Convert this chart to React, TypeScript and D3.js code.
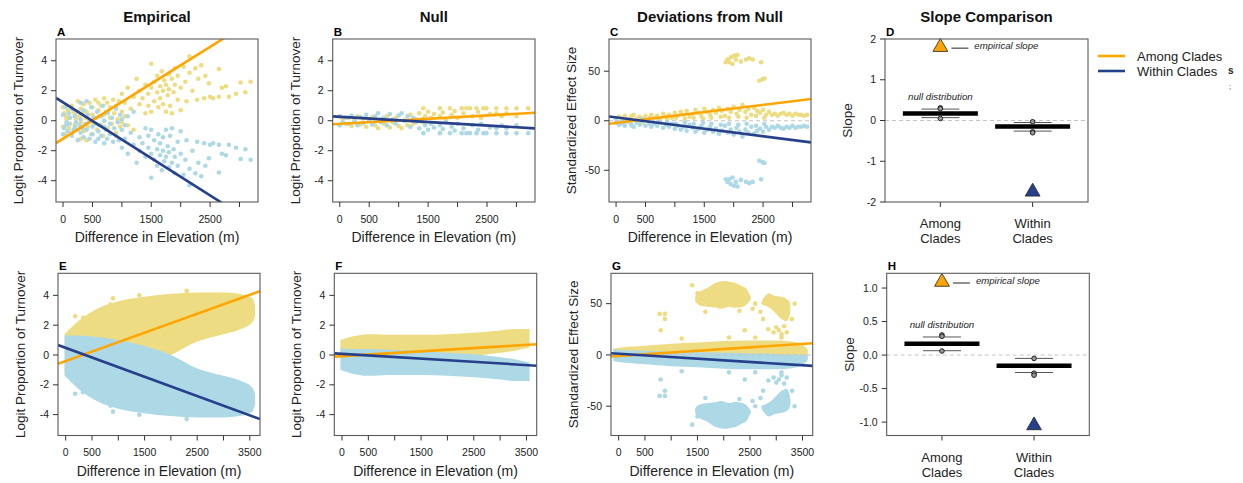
import React from "react";
import * as d3 from "d3";

type Pt = [number, number];
type Band = { x: number[]; lo: number[]; hi: number[] };

// ---- axis ticks and labels ----
const elevTicksTop = [0, 500, 1000, 1500, 2000, 2500, 3000];
const elevLabelsTop = ["0", "500", "", "1500", "", "2500", ""];
const elevTicksBottom = [0, 500, 1000, 1500, 2000, 2500, 3000, 3500];
const elevLabelsBottom = ["0", "500", "", "1500", "", "2500", "", "3500"];
const logitTicks = [-4, -2, 0, 2, 4];
const sesTicks = [-50, 0, 50];
const slopeTicksTop = [-2, -1, 0, 1, 2];
const slopeLabelsTop = ["-2", "-1", "0", "1", "2"];
const slopeTicksBottom = [-1, -0.5, 0, 0.5, 1];
const slopeLabelsBottom = ["-1.0", "-0.5", "0.0", "0.5", "1.0"];

const titles = ["Empirical", "Null", "Deviations from Null", "Slope Comparison"];
const seriesNames = ["Among Clades", "Within Clades"];
const slopeCats = [["Among", "Clades"], ["Within", "Clades"]];

// ---- regression fits, panels A B C E F G (intercept, slope per m) ----
const amongIntercepts = [-1.2, -0.21, -2.1, -0.41, -0.08, -1.1];
const amongSlopes = [0.00245, 0.000224, 0.00725, 0.00127, 0.000216, 0.00339];
const withinIntercepts = [1.22, 0.26, 3.45, 0.48, 0.08, 1.13];
const withinSlopes = [-0.00248, -0.000233, -0.00763, -0.001294, -0.000216, -0.0032];

// ---- panel A points ----
const amongA: Pt[] = [
  [0,0.9],[0,-0.4],[20,0.5],[40,-0.9],[50,0.3],[60,0.1],[80,0.7],[100,-0.5],[100,0.2],[120,-0.2],[150,1.0],[150,-0.8],[180,0.6],[200,0.4],[200,-0.3],[220,0.1],[250,1.3],[250,-0.6],[280,0.3],[300,0.8],[300,-1.2],[300,-0.1],[330,0.5],[350,1.1],[350,-0.7],[380,0.2],[400,0.6],[400,-1.3],[420,-0.4],[450,1.2],[450,0.0],[480,-0.9],[500,0.9],[500,0.4],[520,-0.2],[550,1.4],[560,0.2],[580,-0.6],[600,0.7],[600,1.2],[620,0.3],[650,1.0],[650,-0.3],[680,-1.0],[700,1.5],[700,0.4],[700,0.0],[730,0.6],[750,1.2],[760,-0.5],[800,0.9],[800,0.2],[830,-0.2],[850,1.4],[870,0.5],[900,1.0],[900,-0.8],[930,0.1],[950,1.3],[970,-0.4],[1000,0.6],[1000,1.8],[1000,-0.1],[1050,1.2],[1050,0.3],[1100,2.2],[1100,-0.3],[1150,0.8],[1200,1.6],[1200,-0.6],[1250,2.8],[1300,1.1],[1300,2.0],[1350,1.5],[1400,2.4],[1400,0.5],[1450,1.8],[1450,1.0],[1500,2.2],[1500,3.8],[1500,0.6],
  [1550,1.3],[1550,2.6],[1600,1.9],[1600,3.0],[1620,0.9],[1650,2.3],[1650,1.5],[1680,3.3],[1700,2.0],[1700,1.1],[1720,2.7],[1750,2.4],[1750,0.6],[1780,1.7],[1800,3.1],[1800,2.1],[1820,1.0],[1850,2.8],[1850,0.5],[1880,1.9],[1900,3.5],[1900,2.4],[1950,1.4],[1950,3.0],[2000,2.2],[2000,0.7],
  [2050,3.6],[2080,2.6],[2100,1.3],[2150,4.3],[2150,3.2],[2200,2.0],[2250,3.5],[2280,1.4],[2300,2.8],[2350,3.7],[2400,1.5],[2420,3.0],[2480,2.5],[2500,1.6],
  [2550,1.5],[2650,3.45],[2650,1.6],[2700,2.2],[2770,2.3],[2820,1.6],[2940,1.8],[3020,2.55],[3100,1.9],[3190,2.6]
];
const withinA: Pt[] = [
  [0,-0.9],[0,0.4],[20,-0.5],[40,0.9],[50,-0.3],[60,-0.1],[80,-0.7],[100,0.5],[100,-0.2],[120,0.2],[150,-1.0],[150,0.8],[180,-0.6],[200,-0.4],[200,0.3],[220,-0.1],[250,-1.3],[250,0.6],[280,-0.3],[300,-0.8],[300,1.2],[300,0.1],[330,-0.5],[350,-1.1],[350,0.7],[380,-0.2],[400,-0.6],[400,1.3],[420,0.4],[450,-1.2],[450,0.0],[480,0.9],[500,-0.9],[500,-0.4],[520,0.2],[550,-1.4],[560,-0.2],[580,0.6],[600,-0.7],[600,-1.2],[620,-0.3],[650,-1.0],[650,0.3],[680,1.0],[700,-1.5],[700,-0.4],[700,0.0],[730,-0.6],[750,-1.2],[760,0.5],[800,-0.9],[800,-0.2],[830,0.2],[850,-1.4],[870,-0.5],[900,-1.0],[900,0.8],[930,-0.1],[950,-1.3],[970,0.4],[1000,-0.6],[1000,-1.8],[1000,0.1],[1050,-1.2],[1050,-0.3],[1100,-2.2],[1100,0.3],[1150,-0.8],[1200,-1.6],[1200,0.6],[1250,-2.8],[1300,-1.1],[1300,-2.0],[1350,-1.5],[1400,-2.4],[1400,-0.5],[1450,-1.8],[1450,-1.0],[1500,-2.2],[1500,-3.8],[1500,-0.6],
  [1550,-1.3],[1550,-2.6],[1600,-1.9],[1600,-3.0],[1620,-0.9],[1650,-2.3],[1650,-1.5],[1680,-3.3],[1700,-2.0],[1700,-1.1],[1720,-2.7],[1750,-2.4],[1750,-0.6],[1780,-1.7],[1800,-3.1],[1800,-2.1],[1820,-1.0],[1850,-2.8],[1850,-0.5],[1880,-1.9],[1900,-3.5],[1900,-2.4],[1950,-1.4],[1950,-3.0],[2000,-2.2],[2000,-0.7],
  [2050,-3.6],[2080,-2.6],[2100,-1.3],[2150,-4.3],[2150,-3.2],[2200,-2.0],[2250,-3.5],[2280,-1.4],[2300,-2.8],[2350,-3.7],[2400,-1.5],[2420,-3.0],[2480,-2.5],[2500,-1.6],
  [2550,-1.5],[2650,-3.45],[2650,-1.6],[2700,-2.2],[2770,-2.3],[2820,-1.6],[2940,-1.8],[3020,-2.55],[3100,-1.9],[3190,-2.6]
];

// ---- panel B points ----
const amongB: Pt[] = [
  [0,0.3],[0,-0.3],[50,0.1],[100,-0.2],[150,0.2],[200,-0.35],[250,0.05],[300,0.3],[350,-0.25],[400,0.15],[450,-0.4],[500,0.0],[550,0.25],[600,-0.3],[650,-0.5],[700,0.1],[750,-0.2],[800,0.3],[850,-0.45],[900,-0.1],[950,0.2],[1000,-0.35],[1050,-0.5],[1100,0.0],[1150,-0.3],[1200,0.4],[1250,-0.2],[1300,0.1],[1350,0.5],[1420,0.83],[1400,-0.1],[1450,0.3],[1500,0.6],[1550,0.2],[1600,0.45],[1700,0.83],[1700,0.3],[1750,0.55],[1800,0.1],[1870,0.83],[1900,0.4],[1950,0.65],[2000,0.2],[2070,0.83],[2100,0.5],[2150,0.83],[2210,0.83],[2250,0.3],[2320,0.83],[2350,0.6],[2400,0.2],[2440,0.83],[2490,0.83],[2550,0.45],[2660,0.83],[2660,0.5],[2750,0.3],[2830,0.83],[2830,0.5],[3000,0.83],[3000,0.3],[3200,0.83]
];
const withinB: Pt[] = [
  [0,-0.3],[0,0.3],[50,-0.1],[100,0.2],[150,-0.2],[200,0.35],[250,-0.05],[300,-0.3],[350,0.25],[400,-0.15],[450,0.4],[500,0.0],[550,-0.25],[600,0.3],[650,0.5],[700,-0.1],[750,0.2],[800,-0.3],[850,0.45],[900,0.1],[950,-0.2],[1000,0.35],[1050,0.5],[1100,0.0],[1150,0.3],[1200,-0.4],[1250,0.2],[1300,-0.1],[1350,-0.5],[1420,-0.83],[1400,0.1],[1450,-0.3],[1500,-0.6],[1550,-0.2],[1600,-0.45],[1700,-0.83],[1700,-0.3],[1750,-0.55],[1800,-0.1],[1870,-0.83],[1900,-0.4],[1950,-0.65],[2000,-0.2],[2070,-0.83],[2100,-0.5],[2150,-0.83],[2210,-0.83],[2250,-0.3],[2320,-0.83],[2350,-0.6],[2400,-0.2],[2440,-0.83],[2490,-0.83],[2550,-0.45],[2660,-0.83],[2660,-0.5],[2750,-0.3],[2830,-0.83],[2830,-0.5],[3000,-0.83],[3000,-0.3],[3200,-0.83]
];

// ---- panel C points ----
const amongC: Pt[] = [
  [0,2],[0,-2],[50,4],[100,1],[120,3],[150,5],[200,-1],[250,3],[270,5],[300,6],[350,2],[400,4],[420,1],[450,-2],[500,5],[550,1],[570,3],[600,6],[650,3],[700,5],[720,1],[750,2],[800,7],[850,4],[870,2],[900,6],[950,3],[1000,8],[1020,3],[1050,5],[1100,9],[1150,6],[1170,2],[1200,10],[1250,4],[1300,7],[1320,3],[1350,11],[1400,8],[1450,5],[1480,2],[1500,12],[1550,9],[1600,6],[1620,3],[1650,11],[1700,8],[1750,13],[1780,4],[1800,10],[1850,5],[1900,12],[1920,3],[1950,9],[2000,14],[2050,7],[2080,4],[2100,11],[2150,16],[2200,9],[2220,3],[2250,12],[2300,6],[2350,13],[2380,5],[2400,10],[2450,8],[2500,11],[2520,3],[2550,6],[2600,9],[2650,6],[2700,7],[2750,5],[2800,7],[2850,8],[2900,6],[2950,7],[3000,5],[3050,7],[3100,6],[3150,6],[3200,5],[3250,6],
  [1866,59],[1895,61.7],[1923,59],[1952,64],[1980,57.3],[2009,65.7],[2037,61.7],[2066,66.4],[2123,59.7],[2209,61.7],[2266,63],[2323,61.7],[2466,59],[2437,40.4],[2494,42],[2523,42.7]
];
const withinC: Pt[] = [
  [0,-2],[0,2],[50,-4],[100,-1],[120,-3],[150,-5],[200,1],[250,-3],[270,-5],[300,-6],[350,-2],[400,-4],[420,-1],[450,2],[500,-5],[550,-1],[570,-3],[600,-6],[650,-3],[700,-5],[720,-1],[750,-2],[800,-7],[850,-4],[870,-2],[900,-6],[950,-3],[1000,-8],[1020,-3],[1050,-5],[1100,-9],[1150,-6],[1170,-2],[1200,-10],[1250,-4],[1300,-7],[1320,-3],[1350,-11],[1400,-8],[1450,-5],[1480,-2],[1500,-12],[1550,-9],[1600,-6],[1620,-3],[1650,-11],[1700,-8],[1750,-13],[1780,-4],[1800,-10],[1850,-5],[1900,-12],[1920,-3],[1950,-9],[2000,-14],[2050,-7],[2080,-4],[2100,-11],[2150,-16],[2200,-9],[2220,-3],[2250,-12],[2300,-6],[2350,-13],[2380,-5],[2400,-10],[2450,-8],[2500,-11],[2520,-3],[2550,-6],[2600,-9],[2650,-6],[2700,-7],[2750,-5],[2800,-7],[2850,-8],[2900,-6],[2950,-7],[3000,-5],[3050,-7],[3100,-6],[3150,-6],[3200,-5],[3250,-6],
  [1866,-59],[1895,-61.7],[1923,-59],[1952,-64],[1980,-57.3],[2009,-65.7],[2037,-61.7],[2066,-66.4],[2123,-59.7],[2209,-61.7],[2266,-63],[2323,-61.7],[2466,-59],[2437,-40.4],[2494,-42],[2523,-42.7]
];

// ---- panel E (dense clouds, outlined as bands) ----
const elevE = [-20, 250, 600, 1000, 1500, 2000, 2500, 3000, 3300, 3550, 3600];
const amongHiE = [1.4, 2.3, 3.1, 3.6, 3.9, 4.1, 4.2, 4.2, 4.1, 3.8, 3.3];
const amongLoE = [-1.3, -1.3, -1.2, -1.0, -0.6, 0.0, 0.9, 1.4, 1.7, 2.2, 2.6];
const withinHiE = [1.3, 1.3, 1.2, 1.0, 0.6, 0.0, -0.9, -1.4, -1.7, -2.2, -2.6];
const withinLoE = [-1.4, -2.3, -3.1, -3.6, -3.9, -4.1, -4.2, -4.2, -4.1, -3.8, -3.3];
const amongE: Pt[] = [[180,2.6],[330,2.5],[850,3.4],[900,3.8],[1400,4.0],[2300,4.3],[3250,2.3],[3400,3.6],[3500,2.6]];
const withinE: Pt[] = [[180,-2.6],[330,-2.5],[850,-3.4],[900,-3.8],[1400,-4.0],[2300,-4.3],[3250,-2.3],[3400,-3.6],[3500,-2.6]];

// ---- panel F ----
const elevF = [-30, 150, 500, 1000, 1500, 2000, 2500, 3000, 3300, 3560];
const amongHiF = [1.0, 1.2, 1.4, 1.35, 1.35, 1.4, 1.5, 1.65, 1.75, 1.75];
const amongLoF = [-0.45, -0.4, -0.4, -0.33, -0.25, -0.15, -0.05, 0.15, 0.3, 0.5];
const withinHiF = [0.45, 0.4, 0.4, 0.33, 0.25, 0.15, 0.05, -0.15, -0.3, -0.5];
const withinLoF = [-1.0, -1.2, -1.4, -1.35, -1.35, -1.4, -1.5, -1.65, -1.75, -1.75];

// ---- panel G ----
const elevG = [-100, 0, 500, 1000, 1500, 2000, 2500, 3000, 3300, 3550, 3600];
const amongHiG = [6, 7, 9, 11, 12, 13.5, 14, 14, 13, 8, 5];
const amongLoG = [-6, -5, -4, -3, -2.5, -2, -1.5, -1, -0.5, 0, 0];
const withinHiG = [6, 5, 4, 3, 2.5, 2, 1.5, 1, 0.5, 0, 0];
const withinLoG = [-6, -7, -9, -11, -12, -13.5, -14, -14, -13, -8, -5];
const amongClustersG: Pt[][] = [
  [[1460,57],[1550,62],[1676,65],[1800,69],[1900,71],[2019,72],[2150,71],[2238,70],[2350,67],[2425,65],[2480,60],[2519,55],[2450,50],[2363,47],[2200,46],[2113,47],[1950,45],[1863,46],[1700,47],[1560,48],[1470,51]],
  [[2750,55],[2850,60],[2950,58],[3050,57],[3150,56],[3250,52],[3270,45],[3250,38],[3200,33],[3100,35],[3000,40],[2900,45],[2800,48],[2720,50]]
];
const withinClustersG: Pt[][] = [
  [[1460,-57],[1550,-62],[1676,-65],[1800,-69],[1900,-71],[2019,-72],[2150,-71],[2238,-70],[2350,-67],[2425,-65],[2480,-60],[2519,-55],[2450,-50],[2363,-47],[2200,-46],[2113,-47],[1950,-45],[1863,-46],[1700,-47],[1560,-48],[1470,-51]],
  [[2750,-55],[2850,-60],[2950,-58],[3050,-57],[3150,-56],[3250,-52],[3270,-45],[3250,-38],[3200,-33],[3100,-35],[3000,-40],[2900,-45],[2800,-48],[2720,-50]]
];
const amongG: Pt[] = [[780,40],[880,40],[880,35],[800,24],[1200,16],[1400,68],[1500,60],[1550,52],[1650,42],[2100,17],[2300,43],[2400,24],[2550,45],[2600,50],[2600,17],[2700,42],[2750,35],[2850,25],[2950,22],[3000,27],[3050,24],[3100,20],[3150,28],[3100,17],[3200,22],[3300,35],[3350,50]];
const withinG: Pt[] = [[780,-40],[880,-40],[880,-35],[800,-24],[1200,-16],[1400,-68],[1500,-60],[1550,-52],[1650,-42],[2100,-17],[2300,-43],[2400,-24],[2550,-45],[2600,-50],[2600,-17],[2700,-42],[2750,-35],[2850,-25],[2950,-22],[3000,-27],[3050,-24],[3100,-20],[3150,-28],[3100,-17],[3200,-22],[3300,-35],[3350,-50]];

// ---- slope comparison (null distribution summaries + empirical slopes) ----
const nullMedianD = [0.17, -0.15];
const nullLowD = [0.07, -0.26];
const nullHighD = [0.28, -0.05];
const nullOutliersD = [[0.31, 0.29, 0.05], [-0.03, -0.28, -0.3]];
const empiricalD = [1.8, -1.75];
const nullMedianH = [0.17, -0.16];
const nullLowH = [0.065, -0.26];
const nullHighH = [0.27, -0.05];
const nullOutliersH = [[0.3, 0.28, 0.06], [-0.05, -0.27, -0.3]];
const empiricalH = [1.09, -1.05];

const AMONG_PT = "#EEDC82";
const WITHIN_PT = "#ADD8E6";
const AMONG_LINE = "#FFA500";
const WITHIN_LINE = "#27408B";
const FONT = "'Liberation Sans', Arial, Helvetica, sans-serif";

const rows = [
  { top: 39, bottom: 202, tickBase: 222.5, xlabBase: 242, letterBase: 35.5 },
  { top: 273.3, bottom: 435.5, tickBase: 455.5, xlabBase: 475.5, letterBase: 269.5 },
];

const scatterPanels: any[] = [
  { letter: "A", row: 0, left: 56, right: 258, xDomain: [-120, 3315], yDomain: [-5.42, 5.45], xTicks: elevTicksTop, xLabels: elevLabelsTop, yTicks: logitTicks, ylab: "Logit Proportion of Turnover", among: amongA, within: withinA, fit: 0 },
  { letter: "B", row: 0, left: 332.7, right: 535, xDomain: [-120, 3315], yDomain: [-5.42, 5.45], xTicks: elevTicksTop, xLabels: elevLabelsTop, yTicks: logitTicks, ylab: "Logit Proportion of Turnover", among: amongB, within: withinB, fit: 1 },
  { letter: "C", row: 0, left: 609, right: 811, xDomain: [-120, 3315], yDomain: [-82, 82.5], xTicks: elevTicksTop, xLabels: elevLabelsTop, yTicks: sesTicks, ylab: "Standardized Effect Size", among: amongC, within: withinC, fit: 2, zero: true },
  { letter: "E", row: 1, left: 58, right: 260, xDomain: [-146, 3694], yDomain: [-5.4, 5.48], xTicks: elevTicksBottom, xLabels: elevLabelsBottom, yTicks: logitTicks, ylab: "Logit Proportion of Turnover", among: amongE, within: withinE, fit: 3,
    amongBand: { x: elevE, lo: amongLoE, hi: amongHiE }, withinBand: { x: elevE, lo: withinLoE, hi: withinHiE } },
  { letter: "F", row: 1, left: 334.3, right: 536.7, xDomain: [-146, 3694], yDomain: [-5.4, 5.48], xTicks: elevTicksBottom, xLabels: elevLabelsBottom, yTicks: logitTicks, ylab: "Logit Proportion of Turnover", among: [], within: [], fit: 4,
    amongBand: { x: elevF, lo: amongLoF, hi: amongHiF }, withinBand: { x: elevF, lo: withinLoF, hi: withinHiF } },
  { letter: "G", row: 1, left: 611, right: 812.7, xDomain: [-146, 3694], yDomain: [-78.6, 79.6], xTicks: elevTicksBottom, xLabels: elevLabelsBottom, yTicks: sesTicks, ylab: "Standardized Effect Size", among: amongG, within: withinG, fit: 5, zero: true,
    amongBand: { x: elevG, lo: amongLoG, hi: amongHiG }, withinBand: { x: elevG, lo: withinLoG, hi: withinHiG },
    amongBlobs: amongClustersG, withinBlobs: withinClustersG },
];

const slopePanels: any[] = [
  { letter: "D", row: 0, left: 885, right: 1088, yDomain: [-2, 2], yTicks: slopeTicksTop, yLabels: slopeLabelsTop, median: nullMedianD, low: nullLowD, high: nullHighD, outliers: nullOutliersD, emp: empiricalD, nullLabel: 0.51, cat1: 227.6, cat2: 242.5 },
  { letter: "H", row: 1, left: 886.7, right: 1089.3, yDomain: [-1.2, 1.22], yTicks: slopeTicksBottom, yLabels: slopeLabelsBottom, median: nullMedianH, low: nullLowH, high: nullHighH, outliers: nullOutliersH, emp: empiricalH, nullLabel: 0.41, cat1: 461.5, cat2: 476.5 },
];

function YAxis({ p, y, top, bottom, labels }: any) {
  return (
    <g>
      {p.yTicks.map((t: number, i: number) => (
        <g key={t}>
          <line x1={p.left - 5} x2={p.left} y1={y(t)} y2={y(t)} stroke="#333" />
          <text x={p.left - 9} y={y(t)} dy="0.35em" textAnchor="end" fontSize={10.5} fill="#222">
            {labels ? labels[i] : String(t)}
          </text>
        </g>
      ))}
      <text transform={`translate(${p.left - 33},${(top + bottom) / 2}) rotate(-90)`} textAnchor="middle" fontSize={13.5} fill="#222">
        {p.ylab || "Slope"}
      </text>
    </g>
  );
}

function Scatter({ p }: { p: any }) {
  const r = rows[p.row];
  const x = d3.scaleLinear().domain(p.xDomain).range([p.left, p.right]);
  const y = d3.scaleLinear().domain(p.yDomain).range([r.bottom, r.top]);
  const clip = "clip" + p.letter;
  const band = (b: Band) =>
    d3.area<number>().x((d) => x(d)).y0((_, k) => y(b.lo[k])).y1((_, k) => y(b.hi[k])).curve(d3.curveMonotoneX)(b.x) || "";
  const blob = (poly: Pt[]) =>
    d3.line<Pt>().x((d) => x(d[0])).y((d) => y(d[1])).curve(d3.curveCardinalClosed)(poly) || "";
  const fit = (a: number, b: number) => d3.line<number>().x((d) => x(d)).y((d) => y(a + b * d))(p.xDomain) || "";
  const layer = (band0: Band | undefined, blobs: Pt[][] | undefined, pts: Pt[], color: string) => (
    <g fill={color}>
      {band0 && <path d={band(band0)} />}
      {(blobs || []).map((b, i) => <path key={i} d={blob(b)} />)}
      {pts.map((d, i) => <circle key={i} cx={x(d[0])} cy={y(d[1])} r={2.3} />)}
    </g>
  );
  return (
    <g>
      <clipPath id={clip}>
        <rect x={p.left} y={r.top} width={p.right - p.left} height={r.bottom - r.top} />
      </clipPath>
      <g clipPath={`url(#${clip})`}>
        {layer(p.amongBand, p.amongBlobs, p.among, AMONG_PT)}
        {layer(p.withinBand, p.withinBlobs, p.within, WITHIN_PT)}
        {p.zero && <line x1={p.left} x2={p.right} y1={y(0)} y2={y(0)} stroke="#c4c4c4" strokeDasharray="4,3" />}
        <path d={fit(amongIntercepts[p.fit], amongSlopes[p.fit])} stroke={AMONG_LINE} strokeWidth={2.6} fill="none" />
        <path d={fit(withinIntercepts[p.fit], withinSlopes[p.fit])} stroke={WITHIN_LINE} strokeWidth={2.6} fill="none" />
      </g>
      <rect x={p.left} y={r.top} width={p.right - p.left} height={r.bottom - r.top} fill="none" stroke="#5a5a5a" strokeWidth={1.1} />
      {p.xTicks.map((t: number, i: number) => (
        <g key={t}>
          <line x1={x(t)} x2={x(t)} y1={r.bottom} y2={r.bottom + 5} stroke="#333" />
          {p.xLabels[i] && (
            <text x={x(t)} y={r.tickBase} textAnchor="middle" fontSize={10.5} fill="#222">{p.xLabels[i]}</text>
          )}
        </g>
      ))}
      <text x={(p.left + p.right) / 2} y={r.xlabBase} textAnchor="middle" fontSize={14} fill="#222">
        Difference in Elevation (m)
      </text>
      <YAxis p={p} y={y} top={r.top} bottom={r.bottom} />
      <text x={p.left + 1} y={r.letterBase} fontSize={11.5} fontWeight="bold">{p.letter}</text>
    </g>
  );
}

function Slopes({ p }: { p: any }) {
  const r = rows[p.row];
  const x = d3.scaleLinear().domain([0.4, 2.6]).range([p.left, p.right]);
  const y = d3.scaleLinear().domain(p.yDomain).range([r.bottom, r.top]);
  const tri = d3.symbol().type(d3.symbolTriangle).size(95)() || "";
  const colors = [AMONG_LINE, WITHIN_LINE];
  return (
    <g>
      <line x1={p.left} x2={p.right} y1={y(0)} y2={y(0)} stroke="#c4c4c4" strokeDasharray="4,3" />
      {[0, 1].map((i) => {
        const cx = x(i + 1);
        return (
          <g key={i}>
            <line x1={cx - 19} x2={cx + 19} y1={y(p.high[i])} y2={y(p.high[i])} stroke="#555" />
            <line x1={cx - 19} x2={cx + 19} y1={y(p.low[i])} y2={y(p.low[i])} stroke="#555" />
            <line x1={cx - 37.5} x2={cx + 37.5} y1={y(p.median[i])} y2={y(p.median[i])} stroke="#000" strokeWidth={4.5} />
            {p.outliers[i].map((o: number, k: number) => (
              <circle key={k} cx={cx} cy={y(o)} r={2.3} fill="#999" stroke="#222" strokeWidth={1} />
            ))}
            <path d={tri} transform={`translate(${cx},${y(p.emp[i])})`} fill={colors[i]} stroke="#222" strokeWidth={0.8} />
            <line x1={cx} x2={cx} y1={r.bottom} y2={r.bottom + 5} stroke="#333" />
            <text x={cx} y={p.cat1} textAnchor="middle" fontSize={13} fill="#222">{slopeCats[i][0]}</text>
            <text x={cx} y={p.cat2} textAnchor="middle" fontSize={13} fill="#222">{slopeCats[i][1]}</text>
          </g>
        );
      })}
      <line x1={x(1) + 11} x2={x(1) + 28} y1={y(p.emp[0]) + 1} y2={y(p.emp[0]) + 1} stroke="#222" />
      <text x={x(1) + 34} y={y(p.emp[0]) + 1} dy="0.1em" fontSize={9.6} fontStyle="italic" fill="#222">empirical slope</text>
      <text x={x(1)} y={y(p.nullLabel)} textAnchor="middle" fontSize={9.7} fontStyle="italic" fill="#222">null distribution</text>
      <rect x={p.left} y={r.top} width={p.right - p.left} height={r.bottom - r.top} fill="none" stroke="#5a5a5a" strokeWidth={1.1} />
      <YAxis p={p} y={y} top={r.top} bottom={r.bottom} labels={p.yLabels} />
      <text x={p.left + 1} y={r.letterBase} fontSize={11.5} fontWeight="bold">{p.letter}</text>
    </g>
  );
}

export default function App() {
  const titleCenters = [157, 433.8, 710, 986.5];
  return (
    <svg width={1243} height={483} style={{ position: "absolute", left: 0, top: 0, background: "#fff" }} fontFamily={FONT}>
      {titles.map((t, i) => (
        <text key={t} x={titleCenters[i]} y={22} textAnchor="middle" fontSize={15} fontWeight="bold" fill="#111">{t}</text>
      ))}
      {scatterPanels.map((p) => <Scatter key={p.letter} p={p} />)}
      {slopePanels.map((p) => <Slopes key={p.letter} p={p} />)}
      {seriesNames.map((s, i) => (
        <g key={s}>
          <line x1={1098} x2={1125} y1={56 + i * 15} y2={56 + i * 15} stroke={i === 0 ? AMONG_LINE : WITHIN_LINE} strokeWidth={2.6} />
          <text x={1137} y={56 + i * 15} dy="0.35em" fontSize={13} fill="#222">{s}</text>
        </g>
      ))}
      <text x={1228} y={74} fontSize={10} fontWeight="bold" fill="#222">s</text>
      <text x={1229} y={89} fontSize={8} fill="#444">;</text>
    </svg>
  );
}
